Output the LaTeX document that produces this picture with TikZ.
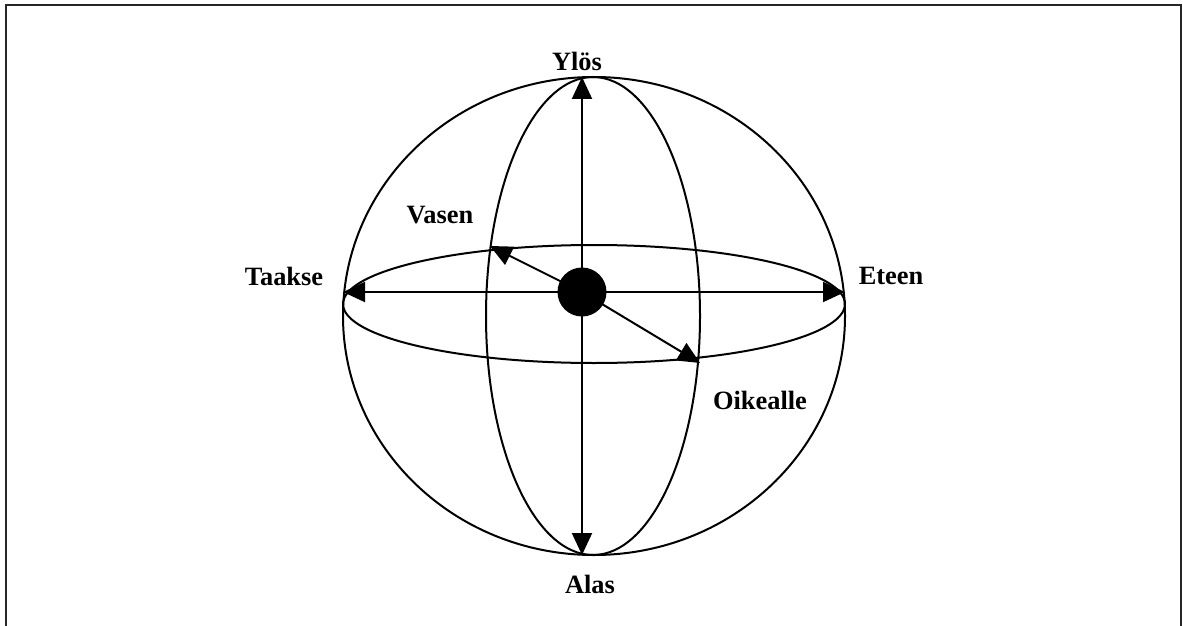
\documentclass[tikz,border=0pt]{standalone}
\usepackage{fontspec}
\setmainfont{Liberation Serif}
\usetikzlibrary{arrows.meta}
\tikzset{
  % pallon viivat
  pallo/.style   = {line width=1pt, draw=black},
  % suuntanuolet
  nuoli/.style   = {line width=1pt, draw=black, -{Triangle[length=11pt, width=10pt]}},
  % keskipiste
  keskus/.style  = {circle, fill=black, inner sep=0pt, minimum size=24.5pt},
  % tekstit
  lab/.style     = {font=\fontsize{13.2}{15}\selectfont\bfseries, inner sep=1pt},
  kehys/.style   = {line width=1.2pt, draw=black!85},
}
\begin{document}
\begin{tikzpicture}[x=0.5pt, y=-0.5pt]
  \useasboundingbox (0,0) rectangle (1183,626);
  % kehys
  \draw[kehys] (6,5) rectangle (1181,660);
  % pallo ja ellipsit
  \draw[pallo] (594,316) ellipse [x radius=125.5pt, y radius=119.5pt];
  \draw[pallo] (593,316) ellipse [x radius=53.5pt, y radius=119.5pt];
  \draw[pallo] (594,304) ellipse [x radius=125.5pt, y radius=29.5pt];
  % nuolten kärjet
  \coordinate (ylos)     at (582,77);
  \coordinate (alas)     at (582,555);
  \coordinate (taakse)   at (343,292);
  \coordinate (eteen)    at (845,292);
  \coordinate (vasen)    at (490,246);
  \coordinate (oikealle) at (700,363);
  \node[keskus] (keski) at (582,292) {};
  \foreach \s in {ylos,alas,taakse,eteen,vasen,oikealle}
    \draw[nuoli] (keski.center) -- (\s);
  % tekstit
  \node[lab] (tylos)     at (577,61)  {Ylös};
  \node[lab] (talas)     at (590,584) {Alas};
  \node[lab] (ttaakse)   at (284,276) {Taakse};
  \node[lab] (teteen)    at (891,276) {Eteen};
  \node[lab] (tvasen)    at (440,215) {Vasen};
  \node[lab] (toikealle) at (760,400) {Oikealle};
\end{tikzpicture}
\end{document}
